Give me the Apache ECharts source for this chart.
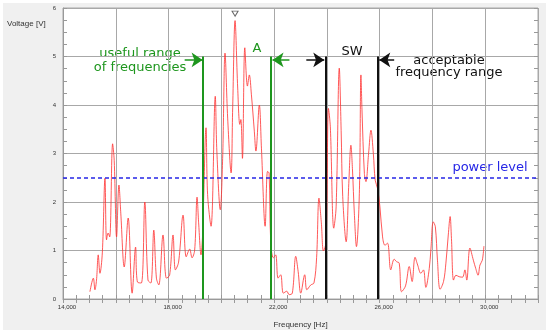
<!DOCTYPE html>
<html>
<head>
<meta charset="utf-8">
<script src="https://cdn.jsdelivr.net/npm/echarts@6/dist/echarts.min.js"></script>
<style>
html,body{margin:0;padding:0;background:#fff;}
#wrap{position:relative;width:550px;height:334px;background:#fff;}
#panel{position:absolute;left:3px;top:3px;width:543px;height:327px;background:#f0f0f0;}
#chart{position:absolute;left:0;top:0;width:550px;height:334px;}
</style>
</head>
<body>
<div id="wrap"><div id="panel"></div><div id="chart"></div></div>
<script>
// Signal: frequency [Hz] and voltage [V]
const frequency = [15020,15150,15210,15270,15335,15400,15490,15590,15650,15710,15770,15880,15940,16030,16120,16190,16320,16470,16620,16750,16820,16970,17100,17220,17330,17440,17540,17630,17790,17920,18040,18170,18260,18380,18550,18670,18800,18890,18990,19080,19140,19230,19290,19420,19480,19610,19770,19830,19960,20050,20140,20240,20370,20430,20520,20620,20700,20740,20800,20890,20990,21060,21140,21250,21310,21440,21520,21660,21750,21810,21870,21970,22060,22150,22250,22350,22480,22570,22690,22820,22910,23010,23160,23240,23390,23510,23610,23700,23790,23870,23970,24060,24130,24260,24350,24470,24540,24600,24730,24830,24910,24970,25040,25120,25230,25290,25330,25420,25480,25580,25670,25760,25830,25920,26010,26110,26200,26300,26420,26550,26640,26740,26830,26980,27120,27230,27340,27440,27560,27660,27750,27880,27940,28030,28110,28190,28290,28420,28510,28600,28670,28720,28800,28890,29010,29140,29230,29300,29420,29550,29640,29730,29800,29890,29950];
const voltage = [0.15,0.43,0.19,0.39,0.91,0.53,0.95,2.49,1.22,1.36,1.28,3.2,2.86,1.28,2.35,1.77,0.66,1.67,0.12,1.07,0.35,0.33,2.0,0.39,0.33,1.42,0.43,0.29,1.32,0.43,0.49,1.32,0.6,0.76,1.73,0.87,1.03,0.85,1.01,2.1,1.57,0.91,1.33,3.53,2.15,1.5,4.18,3.05,1.84,2.9,5.07,3.73,2.6,3.94,5.74,4.35,3.6,3.7,2.9,5.18,4.39,4.62,4.21,3.46,3.05,4.0,3.11,1.5,2.63,2.6,1.2,0.85,0.91,0.43,0.5,0.12,0.16,0.09,0.12,0.88,0.57,0.12,0.5,0.19,0.29,0.33,0.85,2.08,1.57,0.99,1.18,3.93,3.55,1.46,1.9,4.76,3.48,2.11,1.18,2.38,3.17,2.66,1.77,1.08,2.18,4.62,3.9,2.59,2.42,3.0,3.48,3.0,2.45,2.28,1.9,1.28,1.11,1.15,0.6,0.82,0.77,0.74,0.15,0.27,0.67,0.36,0.86,0.7,0.53,0.6,0.24,0.63,1.01,1.59,1.49,0.8,0.2,0.36,0.74,1.32,1.7,1.25,0.39,0.49,0.46,0.45,0.6,0.39,1.05,0.8,0.63,0.49,0.7,0.8,1.09];

// Annotations
const powerLevel = 2.5;
const usefulRange = [19300, 21860];   // green lines "A"
const swRange = [23950, 25940];       // black lines "SW"
const markerTop = 5.0;
const arrowLevel = 4.93;
const greenArrows = [[18610, 19290], [22580, 21940]];
const blackArrows = [[23220, 23900], [26550, 25985]];
const peak = [20520, 5.74];

// Axes
const xMin = 14000, xMax = 32000, xStep = 2000, xLabelStep = 4000;
const yMin = 0, yMax = 6, yStep = 1;

const green = '#1e961e';
const chart = echarts.init(document.getElementById('chart'), null, {renderer: 'canvas'});
const sigData = frequency.map((f, i) => [f, voltage[i]]);

function vline(x, color) {
  return [{coord: [x, markerTop], lineStyle: {color: color, width: 2, type: 'solid'}}, {coord: [x, 0]}];
}
function arrow(a, color) {
  return [{coord: [a[0], arrowLevel], lineStyle: {color: color, width: 1.5, type: 'solid'}, itemStyle: {color: color}}, {coord: [a[1], arrowLevel], itemStyle: {color: color}}];
}

const tickFont = {fontFamily: 'Liberation Sans', fontSize: 6, color: '#333'};

chart.setOption({
  animation: false,
  backgroundColor: 'transparent',
  grid: {left: 63, right: 12, top: 8, bottom: 35, show: true, backgroundColor: '#fff', borderColor: '#a8a8a8', borderWidth: 1},
  xAxis: [{
    type: 'value', min: xMin, max: xMax, interval: xStep,
    name: 'Frequency [Hz]', nameLocation: 'middle', nameGap: 22,
    nameTextStyle: {fontFamily: 'Liberation Sans', fontSize: 8, color: '#333'},
    axisLine: {show: true, lineStyle: {color: '#999'}},
    axisTick: {show: true, inside: true, length: 4, lineStyle: {color: '#999'}},
    minorTick: {show: true, splitNumber: 4, length: 4, lineStyle: {color: '#999'}},
    splitLine: {show: true, lineStyle: {color: '#a8a8a8', width: 1}},
    axisLabel: Object.assign({margin: 5, padding: [0, 0, 0, 8], formatter: v => ((v - xMin) % xLabelStep === 0 ? v.toLocaleString('en-US') : '')}, tickFont)
  }, {
    type: 'value', position: 'top', min: xMin, max: xMax, interval: xStep,
    axisLine: {show: false},
    axisTick: {show: true, inside: true, length: 4, lineStyle: {color: '#999'}},
    minorTick: {show: true, splitNumber: 4, length: 4, lineStyle: {color: '#999'}},
    splitLine: {show: false}, axisLabel: {show: false}
  }],
  yAxis: [{
    type: 'value', min: yMin, max: yMax, interval: yStep,
    axisLine: {show: true, lineStyle: {color: '#999'}},
    axisTick: {show: true, inside: true, length: 4, lineStyle: {color: '#999'}},
    minorTick: {show: true, splitNumber: 4, length: 4, lineStyle: {color: '#999'}},
    splitLine: {show: true, lineStyle: {color: '#a8a8a8', width: 1}},
    axisLabel: Object.assign({margin: 7}, tickFont)
  }, {
    type: 'value', position: 'right', min: yMin, max: yMax, interval: yStep,
    axisLine: {show: false},
    axisTick: {show: true, inside: true, length: 4, lineStyle: {color: '#999'}},
    minorTick: {show: true, splitNumber: 4, length: 4, lineStyle: {color: '#999'}},
    splitLine: {show: false}, axisLabel: {show: false}
  }],
  series: [{
    type: 'line', data: sigData, showSymbol: false, smooth: 0.35,
    lineStyle: {color: '#ff3030', width: 1, opacity: 0.8},
    z: 3,
    markPoint: {
      symbol: 'triangle', symbolRotate: 180, symbolSize: [6, 5], symbolOffset: [0, -7],
      itemStyle: {color: '#fff', borderColor: '#666', borderWidth: 1},
      label: {show: false},
      data: [{coord: peak}]
    }
  }, {
    type: 'line', data: [], z: 4,
    markLine: {
      silent: true, symbol: ['none', 'none'], label: {show: false},
      data: [
        [{yAxis: powerLevel, x: 63, lineStyle: {color: '#2626e6', width: 1.5, type: [4, 3]}}, {yAxis: powerLevel, x: 538}],
        vline(usefulRange[0], green), vline(usefulRange[1], green),
        vline(swRange[0], '#111'), vline(swRange[1], '#111')
      ]
    }
  }, {
    type: 'line', data: [], z: 5,
    markLine: {
      silent: true, symbol: ['none', 'arrow'], symbolSize: 11, label: {show: false},
      data: [
        arrow(greenArrows[0], green), arrow(greenArrows[1], green),
        arrow(blackArrows[0], '#111'), arrow(blackArrows[1], '#111')
      ]
    }
  }],
  graphic: [
    {type: 'text', left: 7, top: 20, style: {text: 'Voltage [V]', font: '8px "Liberation Sans"', fill: '#333'}},
    {type: 'text', x: 140, y: 47, style: {text: 'useful range\nof frequencies', font: '13px "DejaVu Sans"', fill: green, textAlign: 'center', lineHeight: 14}},
    {type: 'text', x: 257, y: 42, style: {text: 'A', font: '13px "DejaVu Sans"', fill: green, textAlign: 'center'}},
    {type: 'text', x: 352, y: 45, style: {text: 'SW', font: '13px "DejaVu Sans"', fill: '#111', textAlign: 'center'}},
    {type: 'text', x: 449, y: 55, style: {text: 'acceptable\nfrequency range', font: '13px "DejaVu Sans"', fill: '#111', textAlign: 'center', lineHeight: 12}},
    {type: 'text', x: 490, y: 161, style: {text: 'power level', font: '13px "DejaVu Sans"', fill: '#2626e6', textAlign: 'center'}}
  ]
});
</script>
</body>
</html>
